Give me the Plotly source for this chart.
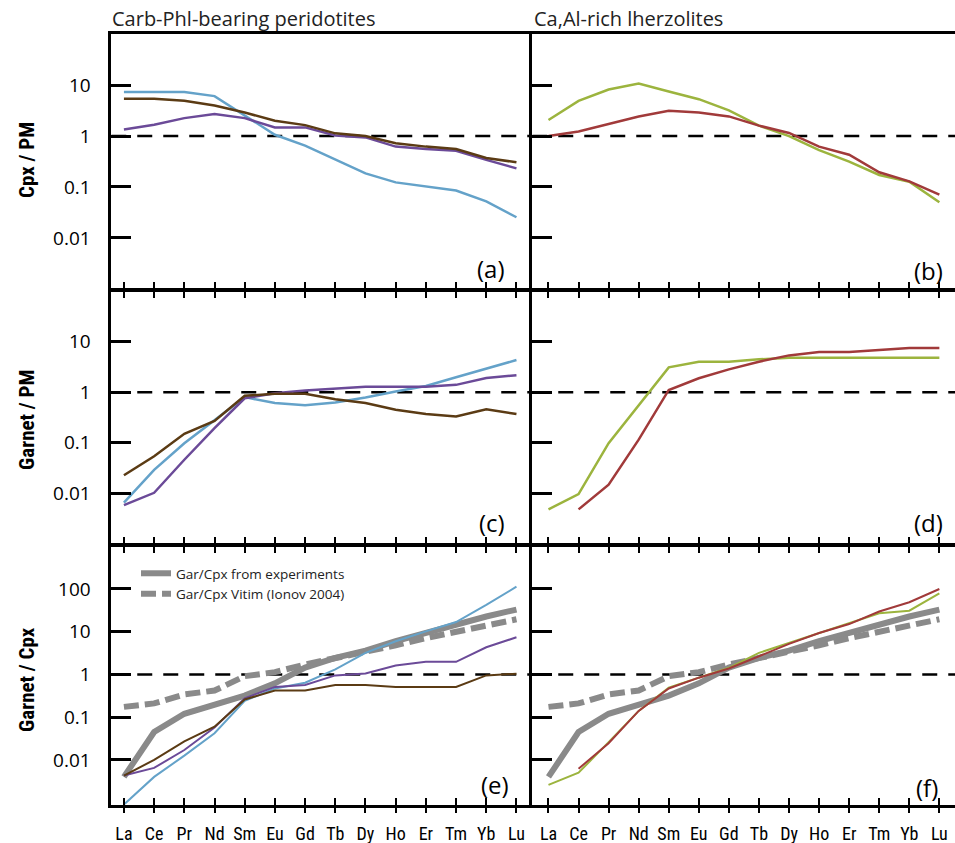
import plotly.graph_objects as go

# ---------------- data ----------------
ree = ["La", "Ce", "Pr", "Nd", "Sm", "Eu", "Gd", "Tb", "Dy", "Ho", "Er", "Tm", "Yb", "Lu"]
idx = list(range(len(ree)))

# (a) Cpx / PM, Carb-Phl-bearing peridotites
a_blue = [7.3, 7.3, 7.3, 6.1, 2.5, 1.06, 0.65, 0.35, 0.185, 0.123, 0.103, 0.085, 0.052, 0.0254]
a_brown = [5.4, 5.4, 4.93, 4.0, 2.9, 2.0, 1.64, 1.13, 1.0, 0.72, 0.62, 0.556, 0.37, 0.305]
a_purple = [1.35, 1.67, 2.25, 2.7, 2.25, 1.48, 1.48, 1.03, 0.94, 0.62, 0.556, 0.515, 0.34, 0.232]
# (b) Cpx / PM, Ca,Al-rich lherzolites
b_green = [2.06, 4.9, 8.2, 10.8, 7.5, 5.3, 3.2, 1.6, 1.0, 0.53, 0.314, 0.172, 0.127, 0.05]
b_red = [1.0, 1.23, 1.72, 2.43, 3.14, 2.91, 2.43, 1.6, 1.15, 0.62, 0.43, 0.194, 0.129, 0.071]
# (c) Garnet / PM
c_blue = [0.0065, 0.029, 0.098, 0.284, 0.80, 0.61, 0.553, 0.625, 0.785, 1.03, 1.33, 1.98, 2.98, 4.35]
c_purple = [0.0058, 0.0102, 0.046, 0.195, 0.76, 0.955, 1.08, 1.18, 1.29, 1.29, 1.29, 1.40, 1.92, 2.17]
c_brown = [0.0227, 0.054, 0.15, 0.27, 0.85, 0.93, 0.93, 0.73, 0.61, 0.45, 0.37, 0.33, 0.46, 0.37]
# (d) Garnet / PM
d_green = [0.0048, 0.0096, 0.098, 0.56, 3.11, 4.03, 4.03, 4.48, 4.83, 4.83, 4.83, 4.83, 4.83, 4.83]
d_red = [None, 0.0048, 0.0148, 0.115, 1.11, 1.89, 2.84, 4.03, 5.37, 6.25, 6.25, 6.85, 7.5, 7.5]
# (e) Garnet / Cpx
e_blue = [0.0009, 0.0040, 0.0126, 0.042, 0.24, 0.47, 0.64, 1.31, 3.19, 5.96, 10.2, 16.8, 42.5, 113]
e_purple = [0.0043, 0.0065, 0.017, 0.057, 0.277, 0.51, 0.565, 0.95, 1.05, 1.62, 1.97, 1.97, 4.32, 7.4]
e_brown = [0.0043, 0.010, 0.027, 0.060, 0.26, 0.42, 0.42, 0.565, 0.565, 0.51, 0.51, 0.51, 0.95, 1.04]
# (f) Garnet / Cpx
f_green = [0.0026, 0.0050, 0.026, 0.14, 0.49, 0.84, 1.43, 3.2, 5.45, 9.3, 15.9, 27, 31, 79]
f_red = [None, 0.0062, 0.0245, 0.14, 0.47, 0.84, 1.38, 2.67, 5.2, 9.3, 15.1, 29.7, 49, 100]
# reference Gar/Cpx curves (both bottom panels)
gar_cpx_exp = [0.0040, 0.045, 0.12, 0.20, 0.32, 0.62, 1.45, 2.44, 3.6, 6.0, 9.3, 15.4, 22.7, 33]
gar_cpx_vitim = [0.174, 0.21, 0.34, 0.42, 0.91, 1.13, 1.71, 2.36, 3.37, 4.8, 7.1, 9.8, 13.3, 19.5]

titles = ["Carb-Phl-bearing peridotites", "Ca,Al-rich lherzolites"]
ytitles = ["Cpx / PM", "Garnet / PM", "Garnet / Cpx"]
panel_tags = ["(a)", "(b)", "(c)", "(d)", "(e)", "(f)"]
ticks_pm = [0.01, 0.1, 1, 10]
ticks_gc = [0.01, 0.1, 1, 10, 100]
ticks_pm_txt = ["0.01", "0.1", "1", "10"]
ticks_gc_txt = ["0.01", "0.1", "1", "10", "100"]

# ---------------- style ----------------
W, H = 955, 843
BLUE = "#64a2c9"
BROWN = "#5b3b14"
PURPLE = "#6b4a98"
GREEN = "#9cb43e"
RED = "#a13a3a"
GRAY = "#8a8a8a"
LW = 2.5
NUM_FONT = "Open Sans, DejaVu Sans, sans-serif"
COND_FONT = "Liberation Sans Narrow, Roboto Condensed, DejaVu Sans Condensed, Arial Narrow, sans-serif"


def fx(p):
    return p / W


def fy(p):
    return 1 - p / H


h = LW / 2  # axis lines are drawn half a line width outside the plot area
xdom = [[fx(110 + h), fx(531 - h)], [fx(531 + h), 1.0]]
ydom = [[fy(290 - h), fy(33 + h)], [fy(545 - h), fy(290 + h)], [fy(806 - h), fy(545 + h)]]
xrng = [[-0.42, 13.44], [-0.54, 13.52]]
yrng = [[-3, 2], [-3, 2], [-3.05, 3.0]]

fig = go.Figure()


def add_line(n, y, color, width=2.5, dash="solid", name=None, legend=False):
    fig.add_trace(go.Scatter(
        x=idx, y=y, mode="lines", name=name, showlegend=legend,
        line=dict(color=color, width=width, dash=dash),
        xaxis="x" + ("" if n == 1 else str(n)), yaxis="y" + ("" if n == 1 else str(n)),
        connectgaps=False, hoverinfo="skip"))


def add_ref(n):
    col = (n - 1) % 2
    fig.add_trace(go.Scatter(
        x=xrng[col], y=[1, 1], mode="lines", showlegend=False,
        line=dict(color="black", width=2.5, dash="15px,11px"),
        xaxis="x" + ("" if n == 1 else str(n)), yaxis="y" + ("" if n == 1 else str(n)),
        hoverinfo="skip"))


# (a)
add_ref(1)
add_line(1, a_blue, BLUE)
add_line(1, a_purple, PURPLE)
add_line(1, a_brown, BROWN)
# (b)
add_ref(2)
add_line(2, b_green, GREEN)
add_line(2, b_red, RED)
# (c)
add_ref(3)
add_line(3, c_blue, BLUE)
add_line(3, c_purple, PURPLE)
add_line(3, c_brown, BROWN)
# (d)
add_ref(4)
add_line(4, d_green, GREEN)
add_line(4, d_red, RED)
# (e)
add_ref(5)
add_line(5, gar_cpx_exp, GRAY, width=6, name="Gar/Cpx from experiments", legend=True)
add_line(5, gar_cpx_vitim, GRAY, width=6, dash="15px,6px", name="Gar/Cpx Vitim (Ionov 2004)", legend=True)
add_line(5, e_blue, BLUE, width=2)
add_line(5, e_purple, PURPLE, width=2)
add_line(5, e_brown, BROWN, width=2)
# (f)
add_ref(6)
add_line(6, gar_cpx_exp, GRAY, width=6)
add_line(6, gar_cpx_vitim, GRAY, width=6, dash="15px,6px")
add_line(6, f_green, GREEN, width=2)
add_line(6, f_red, RED, width=2)

# dummy traces for the outer bottom label axes
fig.add_trace(go.Scatter(x=[None], y=[None], xaxis="x7", yaxis="y5", showlegend=False, hoverinfo="skip"))
fig.add_trace(go.Scatter(x=[None], y=[None], xaxis="x8", yaxis="y6", showlegend=False, hoverinfo="skip"))

layout = dict(
    width=W, height=H,
    margin=dict(l=0, r=0, t=0, b=0),
    paper_bgcolor="white", plot_bgcolor="white",
    showlegend=True,
    legend=dict(x=fx(136), y=fy(558), xanchor="left", yanchor="top",
                bgcolor="rgba(0,0,0,0)", font=dict(family=NUM_FONT, size=13.5, color="#222"),
                tracegroupgap=0, itemwidth=30),
)

for n in range(1, 7):
    row = (n - 1) // 2
    col = (n - 1) % 2
    key = "" if n == 1 else str(n)
    mirror = True if row == 0 else "allticks"
    layout["xaxis" + key] = dict(
        domain=xdom[col], anchor="y" + key, range=xrng[col],
        tickvals=idx, showticklabels=False,
        ticks="inside", ticklen=7, tickwidth=2, tickcolor="black",
        showline=True, linecolor="black", linewidth=LW, mirror=mirror,
        showgrid=False, zeroline=False, fixedrange=True)
    tv = ticks_gc if row == 2 else ticks_pm
    tt = ticks_gc_txt if row == 2 else ticks_pm_txt
    layout["yaxis" + key] = dict(
        domain=ydom[row], anchor="x" + key, type="log", range=yrng[row],
        tickvals=tv, ticktext=tt, showticklabels=(col == 0),
        ticks="inside", ticklen=20, tickwidth=2.5, tickcolor="black",
        ticklabelstandoff=14,
        tickfont=dict(family=NUM_FONT, size=19, color="black"),
        showline=True, linecolor="black", linewidth=LW,
        showgrid=False, zeroline=False, fixedrange=True)

# outer bottom axes with labels and outward ticks
for key, base, col in (("7", "x5", 0), ("8", "x6", 1)):
    layout["xaxis" + key] = dict(
        overlaying=base, anchor="y5" if col == 0 else "y6", side="bottom",
        range=xrng[col], tickvals=idx, ticktext=ree,
        ticks="outside", ticklen=7, tickwidth=2, tickcolor="black",
        ticklabelstandoff=6,
        tickfont=dict(family=COND_FONT, size=18, color="black"),
        showline=False, showgrid=False, zeroline=False, fixedrange=True)

annotations = []
annotations.append(dict(text=titles[0], x=fx(110), y=fy(18), xref="paper", yref="paper",
                        xanchor="left", yanchor="middle", showarrow=False,
                        font=dict(family=NUM_FONT, size=20, color="#222")))
annotations.append(dict(text=titles[1], x=fx(532), y=fy(18), xref="paper", yref="paper",
                        xanchor="left", yanchor="middle", showarrow=False,
                        font=dict(family=NUM_FONT, size=20, color="#222")))
for t, yc in zip(ytitles, [160, 420, 680]):
    annotations.append(dict(text="<b>" + t + "</b>", x=fx(27), y=fy(yc), xref="paper", yref="paper",
                            xanchor="center", yanchor="middle", textangle=-90, showarrow=False,
                            font=dict(family=COND_FONT, size=21, color="black")))
tag_pos = [(0.946, 0.078), (0.976, 0.071), (0.946, 0.086), (0.976, 0.086), (0.955, 0.077), (0.965, 0.065)]
for n, (tag, (tx, ty)) in enumerate(zip(panel_tags, tag_pos), start=1):
    key = "" if n == 1 else str(n)
    annotations.append(dict(text=tag, x=tx, y=ty, xref="x" + key + " domain", yref="y" + key + " domain",
                            xanchor="right", yanchor="middle", showarrow=False,
                            font=dict(family=NUM_FONT, size=24, color="black")))
layout["annotations"] = annotations

fig.update_layout(**layout)
fig.write_html(
    "out.html",
    config={"displayModeBar": False, "staticPlot": False},
    post_script="document.body.style.margin='0px';document.body.style.overflow='hidden';"
                "document.documentElement.style.overflow='hidden';",
)
